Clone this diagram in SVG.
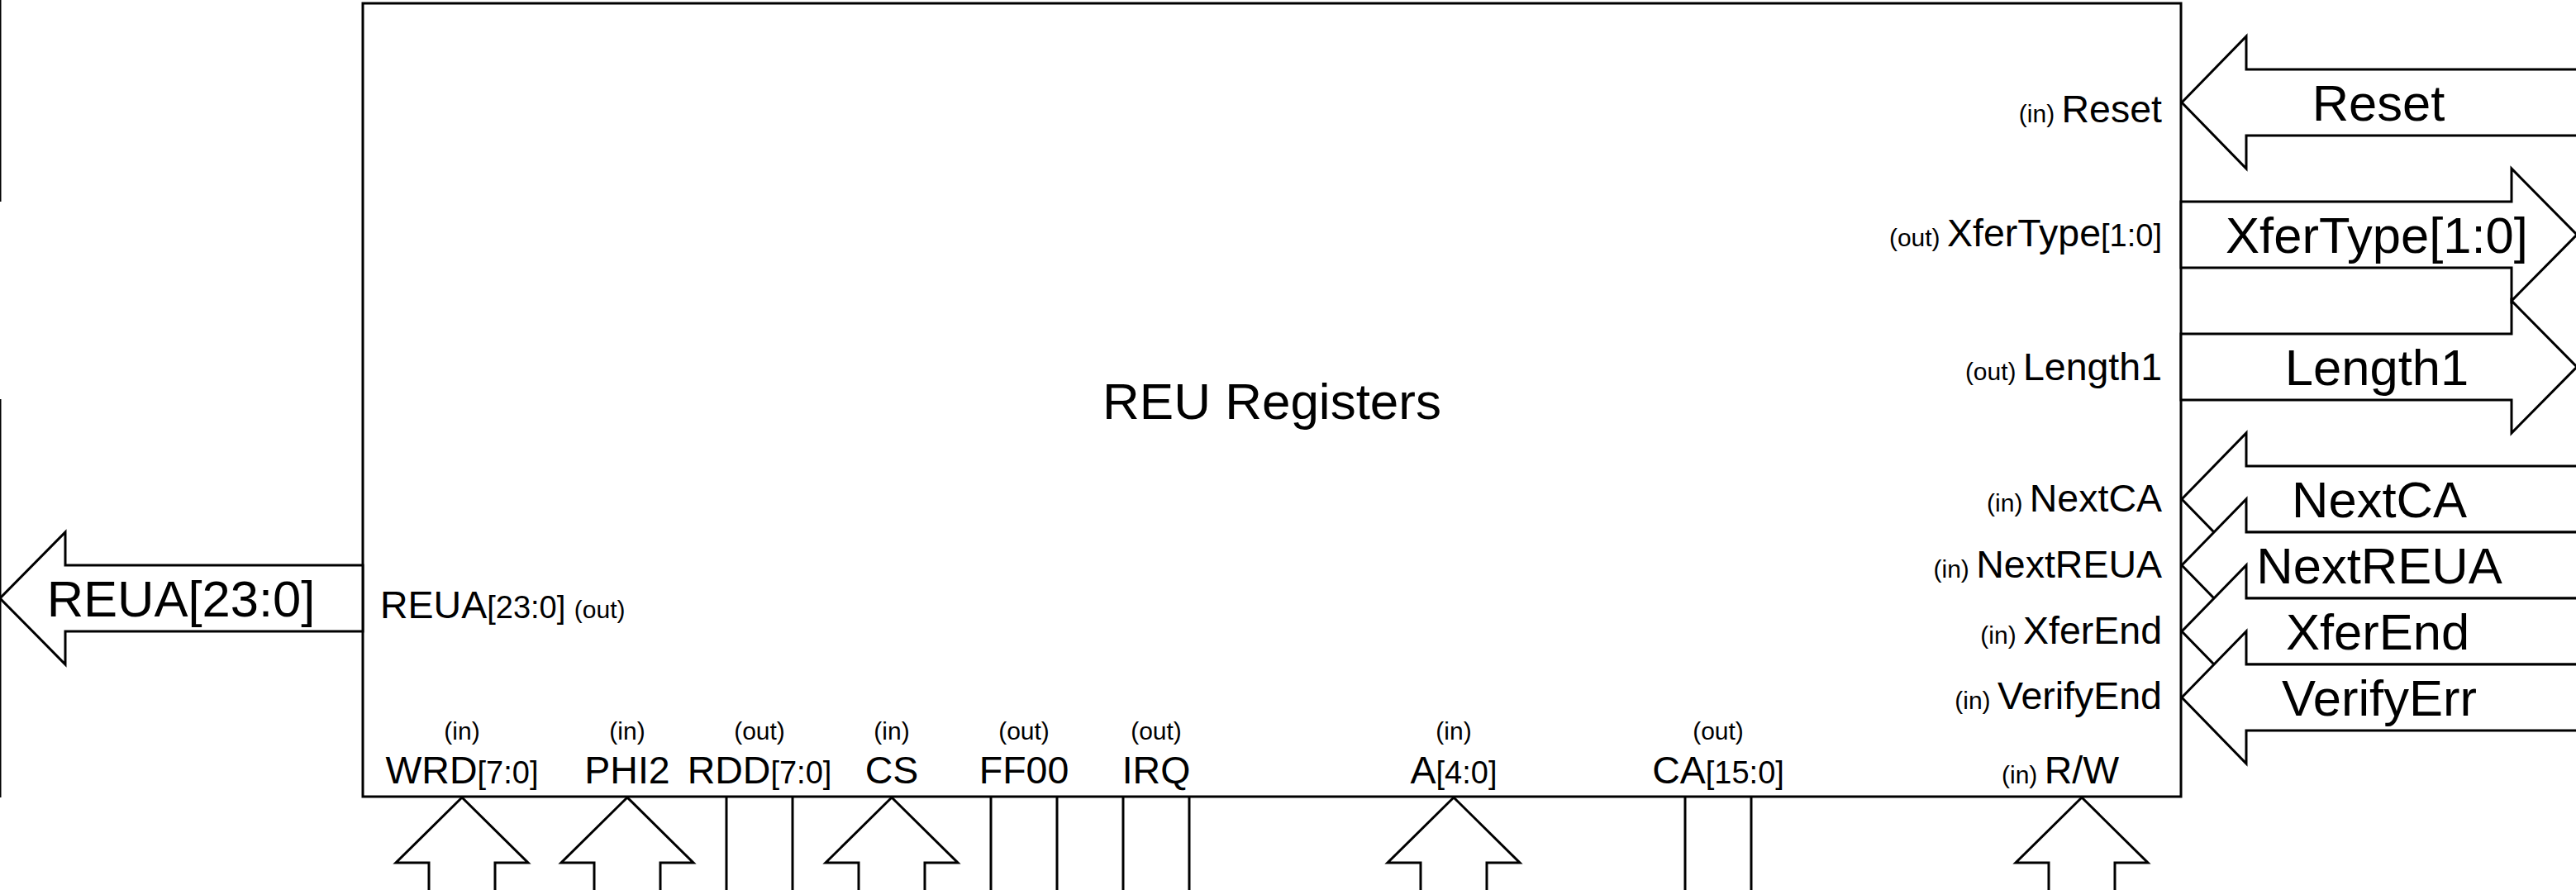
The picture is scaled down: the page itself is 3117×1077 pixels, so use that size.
<svg xmlns="http://www.w3.org/2000/svg" width="3117" height="1077" viewBox="0 0 3117 1077">
<style>
.box{fill:#fff;stroke:#000;stroke-width:3}
.arr{fill:#fff;stroke:#000;stroke-width:3;stroke-linejoin:miter;stroke-miterlimit:10}
.wire{fill:none;stroke:#000;stroke-width:3}
text{font-family:"Liberation Sans",Arial,Helvetica,sans-serif;fill:#000}
.title{font-size:62px}
.big{font-size:61.5px;text-anchor:middle}
.lbl{font-size:46.5px}
.sub{font-size:38px}
.dir{font-size:30px}
.mid{text-anchor:middle}
.end{text-anchor:end}
</style>
<rect width="3117" height="1077" fill="#fff"/>
<g id="offscreen-left">
<line class="wire" x1="0" y1="0" x2="0" y2="244"/>
<line class="wire" x1="0" y1="483" x2="0" y2="965"/>
</g>
<g id="reu-registers">
<rect class="box" x="439" y="4" width="2200" height="960"/>
<text class="title mid" x="1539" y="507">REU Registers</text>
<text class="end" x="2616" y="148"><tspan class="dir">(in) </tspan><tspan class="lbl">Reset</tspan></text>
<text class="end" x="2616" y="298"><tspan class="dir">(out) </tspan><tspan class="lbl">XferType</tspan><tspan class="sub">[1:0]</tspan></text>
<text class="end" x="2616" y="460"><tspan class="dir">(out) </tspan><tspan class="lbl">Length1</tspan></text>
<text class="end" x="2616" y="619"><tspan class="dir">(in) </tspan><tspan class="lbl">NextCA</tspan></text>
<text class="end" x="2616" y="699"><tspan class="dir">(in) </tspan><tspan class="lbl">NextREUA</tspan></text>
<text class="end" x="2616" y="779"><tspan class="dir">(in) </tspan><tspan class="lbl">XferEnd</tspan></text>
<text class="end" x="2616" y="858"><tspan class="dir">(in) </tspan><tspan class="lbl">VerifyEnd</tspan></text>
<text x="2422" y="948"><tspan class="dir">(in) </tspan><tspan class="lbl">R/W</tspan></text>
<text x="460" y="748"><tspan class="lbl">REUA</tspan><tspan class="sub">[23:0] </tspan><tspan class="dir">(out)</tspan></text>
<text class="dir mid" x="559" y="895">(in)</text>
<text class="mid" x="559" y="948"><tspan class="lbl">WRD</tspan><tspan class="sub">[7:0]</tspan></text>
<text class="dir mid" x="759" y="895">(in)</text>
<text class="lbl mid" x="759" y="948">PHI2</text>
<text class="dir mid" x="919" y="895">(out)</text>
<text class="mid" x="919" y="948"><tspan class="lbl">RDD</tspan><tspan class="sub">[7:0]</tspan></text>
<text class="dir mid" x="1079" y="895">(in)</text>
<text class="lbl mid" x="1079" y="948">CS</text>
<text class="dir mid" x="1239" y="895">(out)</text>
<text class="lbl mid" x="1239" y="948">FF00</text>
<text class="dir mid" x="1399" y="895">(out)</text>
<text class="lbl mid" x="1399" y="948">IRQ</text>
<text class="dir mid" x="1759" y="895">(in)</text>
<text class="mid" x="1759" y="948"><tspan class="lbl">A</tspan><tspan class="sub">[4:0]</tspan></text>
<text class="dir mid" x="2079" y="895">(out)</text>
<text class="mid" x="2079" y="948"><tspan class="lbl">CA</tspan><tspan class="sub">[15:0]</tspan></text>
</g>
<g id="connectors">
<g id="c-reua">
<polygon class="arr" points="0,724 79,644 79,684 439,684 439,764 79,764 79,804"/>
<text class="big" x="219" y="746">REUA[23:0]</text>
</g>
<g id="c-reset">
<polygon class="arr" points="2640,124 2718,44 2718,84 3130,84 3130,164 2718,164 2718,204"/>
<text class="big" x="2878" y="146">Reset</text>
</g>
<g id="c-xfertype">
<polygon class="arr" points="2639,244 3039,244 3039,204 3118,284 3039,364 3039,324 2639,324"/>
<text class="big" x="2876" y="306">XferType[1:0]</text>
</g>
<g id="c-length1">
<polygon class="arr" points="2639,404 3039,404 3039,364 3118,444 3039,524 3039,484 2639,484"/>
<text class="big" x="2876" y="466">Length1</text>
</g>
<g id="c-nextca">
<polygon class="arr" points="2640,604 2718,524 2718,564 3130,564 3130,644 2718,644 2718,684"/>
<text class="big" x="2879" y="626">NextCA</text>
</g>
<g id="c-nextreua">
<polygon class="arr" points="2640,684 2718,604 2718,644 3130,644 3130,724 2718,724 2718,764"/>
<text class="big" x="2879" y="706">NextREUA</text>
</g>
<g id="c-xferend">
<polygon class="arr" points="2640,764 2718,684 2718,724 3130,724 3130,804 2718,804 2718,844"/>
<text class="big" x="2877" y="786">XferEnd</text>
</g>
<g id="c-verifyerr">
<polygon class="arr" points="2640,844 2718,764 2718,804 3130,804 3130,884 2718,884 2718,924"/>
<text class="big" x="2879" y="866">VerifyErr</text>
</g>
<polygon id="c-wrd" class="arr" points="559,965 639,1044 599,1044 599,1090 519,1090 519,1044 479,1044"/>
<polygon id="c-phi2" class="arr" points="759,965 839,1044 799,1044 799,1090 719,1090 719,1044 679,1044"/>
<g id="c-rdd"><line class="wire" x1="879" y1="964" x2="879" y2="1080"/><line class="wire" x1="959" y1="964" x2="959" y2="1080"/></g>
<polygon id="c-cs" class="arr" points="1079,965 1159,1044 1119,1044 1119,1090 1039,1090 1039,1044 999,1044"/>
<g id="c-ff00"><line class="wire" x1="1199" y1="964" x2="1199" y2="1080"/><line class="wire" x1="1279" y1="964" x2="1279" y2="1080"/></g>
<g id="c-irq"><line class="wire" x1="1359" y1="964" x2="1359" y2="1080"/><line class="wire" x1="1439" y1="964" x2="1439" y2="1080"/></g>
<polygon id="c-a" class="arr" points="1759,965 1839,1044 1799,1044 1799,1090 1719,1090 1719,1044 1679,1044"/>
<g id="c-ca"><line class="wire" x1="2039" y1="964" x2="2039" y2="1080"/><line class="wire" x1="2119" y1="964" x2="2119" y2="1080"/></g>
<polygon id="c-rw" class="arr" points="2519,965 2599,1044 2559,1044 2559,1090 2479,1090 2479,1044 2439,1044"/>
</g>
</svg>
